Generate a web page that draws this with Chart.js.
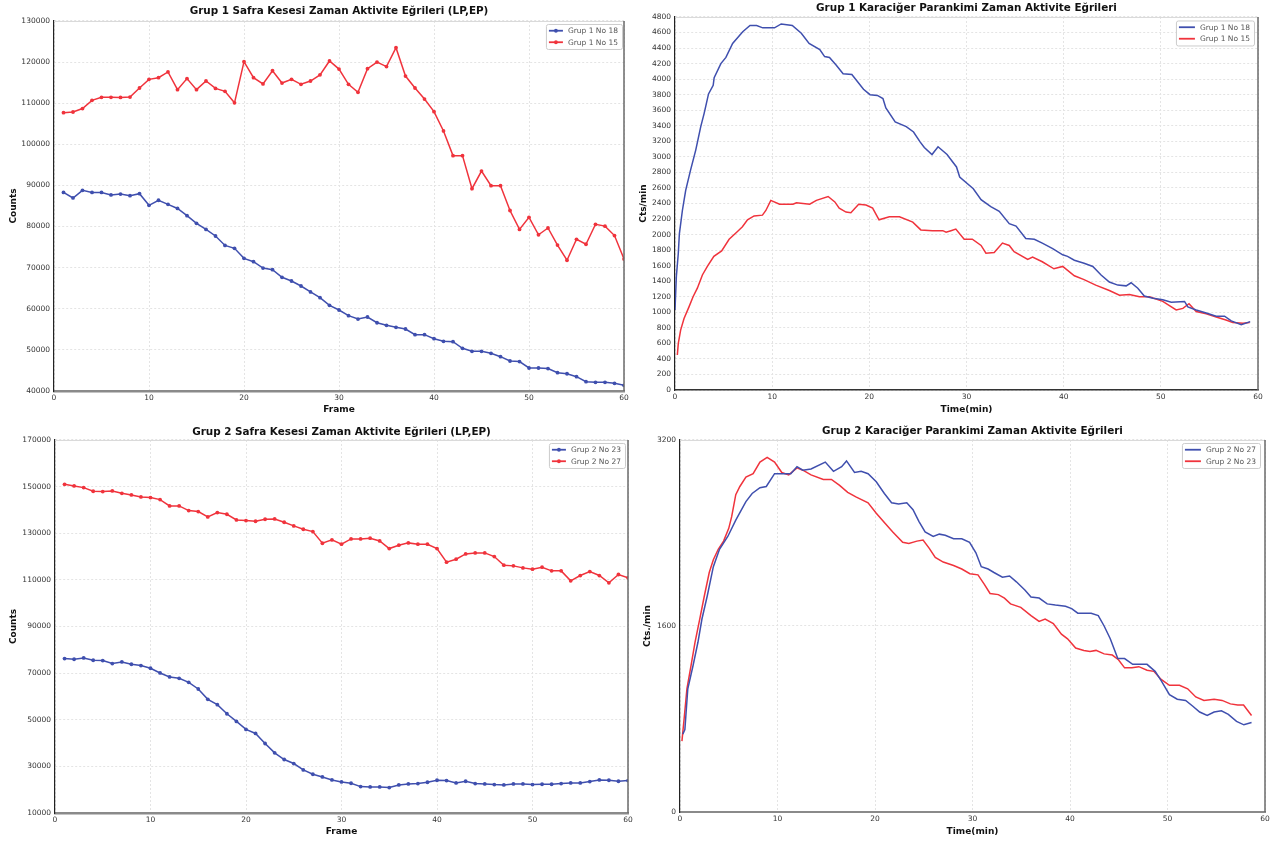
<!DOCTYPE html>
<html><head><meta charset="utf-8">
<script src="https://cdn.jsdelivr.net/npm/chart.js@4.4.1/dist/chart.umd.min.js"></script>
<style>
html,body{margin:0;padding:0;background:#fff;width:1273px;height:841px;overflow:hidden;}
canvas{position:absolute;}
</style></head><body>
<canvas id="c1" width="636" height="420" style="left:0;top:0"></canvas>
<canvas id="c2" width="637" height="420" style="left:636px;top:0"></canvas>
<canvas id="c3" width="636" height="421" style="left:0;top:420px"></canvas>
<canvas id="c4" width="637" height="421" style="left:636px;top:420px"></canvas>
<script>
// ---------- DATA ----------
const frames = [1,2,3,4,5,6,7,8,9,10,11,12,13,14,15,16,17,18,19,20,21,22,23,24,25,26,27,28,29,30,
  31,32,33,34,35,36,37,38,39,40,41,42,43,44,45,46,47,48,49,50,51,52,53,54,55,56,57,58,59,60];

// Grup 1 Safra Kesesi (Counts per frame)
const g1GallNo18 = [88300,86950,88800,88300,88300,87700,87900,87500,88000,85170,86400,85400,84400,82650,80780,
  79300,77700,75400,74700,72260,71450,69900,69500,67650,66750,65540,64100,62700,60840,59700,58320,57500,58000,
  56600,55970,55490,55080,53700,53700,52720,52080,52000,50380,49650,49650,49170,48350,47300,47150,45600,45600,
  45450,44460,44200,43480,42260,42100,42100,41860,41370];
const g1GallNo15 = [107700,107860,108700,110700,111440,111440,111400,111500,113700,115800,116200,117600,113300,
  116000,113300,115400,113600,112900,110100,120100,116200,114700,117900,114900,115800,114600,115400,116900,120270,
  118300,114600,112650,118400,120000,118900,123500,116600,113700,111000,107950,103250,97250,97250,89200,93500,
  89950,89950,83900,79300,82250,78000,79650,75500,71800,76900,75700,80550,80100,77800,72100];

// Grup 2 Safra Kesesi (Counts per frame)
const g2GallNo23 = [76240,75950,76520,75520,75380,74090,74800,73800,73230,72080,70070,68350,67780,66060,63190,
  58750,56450,52580,49280,45840,44120,39820,35800,32940,31220,28490,26630,25480,24190,23330,22760,21330,21180,
  21180,20900,22040,22470,22620,23190,24050,23910,22910,23620,22620,22470,22190,22040,22470,22470,22190,22330,
  22330,22620,22910,22910,23480,24190,24050,23620,23910];
const g2GallNo27 = [151000,150290,149570,148000,147860,148140,147140,146430,145570,145290,144430,141710,141710,
  139710,139290,137000,138860,138140,135710,135430,135140,136000,136140,134710,133140,131710,130710,125710,127140,
  125290,127570,127570,127860,126710,123430,124860,125860,125290,125290,123430,117570,118860,121140,121570,121570,
  120000,116290,116000,115140,114570,115430,113860,113860,109570,111860,113570,111860,108710,112290,110860];

// Grup 1 Karaciğer Parankimi (time in min, Cts/min)
const g1LiverTime18 = [0,0.14,0.34,0.45,0.76,0.93,1.1,1.6,2.14,2.65,3.0,3.45,3.93,4.03,4.72,5.24,5.93,6.97,7.72,8.4,
  9.03,10.24,10.93,12.07,13.0,13.8,14.9,15.4,15.9,16.6,17.3,18.2,19.4,20.07,20.83,21.4,21.7,22.66,23.8,24.55,25.24,
  25.66,26.45,27.07,28.0,28.97,29.3,30.7,31.5,32.5,33.37,34.4,35.1,36.1,36.98,37.8,38.87,39.9,40.4,41.1,42.1,43.0,
  43.85,44.7,45.57,46.43,46.94,47.63,48.3,49.2,50.2,51.07,52.44,52.78,53.64,54.67,55.7,56.56,57.25,58.28,59.2];
const g1LiverNo18 = [1030,1460,1760,2010,2310,2440,2570,2830,3090,3390,3560,3810,3920,4020,4200,4280,4460,4610,4690,
  4690,4660,4660,4710,4690,4590,4460,4380,4290,4280,4180,4070,4060,3870,3800,3790,3750,3630,3450,3390,3320,3190,
  3120,3030,3130,3030,2870,2740,2590,2450,2360,2300,2140,2110,1950,1940,1890,1820,1740,1720,1670,1630,1590,1480,
  1390,1350,1340,1380,1310,1210,1180,1160,1130,1140,1070,1030,990,950,950,890,840,880];
const g1LiverTime15 = [0.24,0.34,0.58,0.93,1.44,1.86,2.3,2.82,3.33,4.0,4.8,5.57,6.43,6.94,7.46,8.14,9.0,9.35,9.86,
  10.76,12.14,12.5,13.86,14.55,15.76,16.45,16.9,17.6,18.1,18.9,19.66,20.34,21.0,22.06,23.1,24.47,25.3,26.5,27.56,
  27.9,28.4,28.9,29.76,30.6,31.5,32.0,32.85,33.7,34.4,34.9,36.3,36.8,37.8,39.0,39.9,41.1,42.1,43.3,44.7,45.74,46.77,
  47.8,48.83,50.2,51.58,52.27,52.9,53.64,54.67,55.7,56.7,57.4,58.45,59.14];
const g1LiverNo15 = [450,600,770,920,1070,1200,1310,1480,1590,1720,1790,1940,2040,2100,2190,2240,2250,2310,2440,
  2390,2390,2410,2390,2440,2490,2420,2340,2290,2280,2390,2380,2340,2190,2230,2230,2160,2060,2050,2050,2030,2050,
  2070,1940,1940,1860,1760,1770,1890,1860,1780,1680,1710,1650,1560,1590,1470,1420,1350,1280,1220,1230,1200,1200,
  1140,1030,1050,1110,1010,980,940,900,870,860,870];

// Grup 2 Karaciğer Parankimi (time in min, Cts/min)
const g2LiverTime27 = [0.29,0.5,0.8,1.34,1.84,2.25,2.8,3.42,4.05,4.9,5.72,6.76,7.4,8.2,8.85,9.7,10.94,11.36,12.0,
  12.6,13.44,14.9,15.74,16.58,17.08,17.9,18.58,19.29,20.13,20.96,21.7,22.42,23.26,23.9,24.5,25.14,25.97,26.6,27.2,
  28.06,28.9,29.7,30.35,30.9,31.6,32.2,33.07,33.8,34.5,35.37,36.0,36.83,37.66,38.5,39.54,40.17,40.8,41.63,42.17,
  42.9,43.5,44.13,44.9,45.6,46.43,47.9,48.73,49.35,50.2,51.0,51.86,52.6,53.3,54.07,54.78,55.53,56.24,57.08,57.83,58.62];
const g2LiverNo27 = [670,710,1060,1260,1460,1660,1860,2110,2260,2370,2510,2670,2740,2790,2800,2910,2910,2910,2970,
  2940,2950,3010,2930,2970,3020,2920,2930,2910,2840,2740,2660,2650,2660,2600,2500,2410,2370,2390,2380,2350,2350,
  2320,2230,2110,2090,2060,2020,2030,1980,1910,1850,1840,1790,1780,1770,1750,1710,1710,1710,1690,1600,1490,1320,
  1320,1270,1270,1210,1130,1010,970,960,910,860,830,860,870,840,780,750,770];
const g2LiverTime23 = [0.2,0.42,0.71,1.13,1.54,2.05,2.5,3.0,3.42,3.92,4.47,5.0,5.3,5.72,6.14,6.76,7.5,8.2,8.94,9.7,
  10.44,11.15,12.0,12.6,13.44,14.7,15.53,16.37,17.2,18.04,19.29,20.13,20.96,21.8,22.84,23.47,24.3,24.93,25.55,26.18,
  27.0,28.06,28.9,29.73,30.56,31.2,31.8,32.65,33.28,33.9,34.95,36.0,36.83,37.45,38.29,39.12,39.75,40.58,41.42,42.05,
  42.67,43.5,44.34,44.97,45.6,46.35,47.06,47.9,48.6,49.35,50.2,51.23,52.07,52.9,53.74,54.78,55.6,56.45,57.2,57.8,58.62];
const g2LiverNo23 = [610,800,1060,1260,1460,1670,1860,2060,2170,2260,2330,2440,2540,2730,2800,2880,2910,3010,3050,
  3010,2920,2900,2960,2940,2900,2860,2860,2810,2750,2710,2660,2570,2490,2410,2320,2310,2330,2340,2270,2190,2150,
  2120,2090,2050,2040,1960,1880,1870,1840,1790,1760,1690,1640,1660,1620,1530,1490,1410,1390,1380,1390,1360,1350,
  1310,1240,1240,1250,1220,1210,1140,1090,1090,1060,990,960,970,960,930,920,920,830];

// ---------- STYLE ----------
const BLUE = '#3f4fae';
const RED = '#f0333c';
Chart.defaults.font.family = '"DejaVu Sans", sans-serif';
Chart.defaults.color = '#333';

function pts(xs, ys) { return xs.map((x, i) => ({x: x, y: ys[i]})); }

const framePlugin = {
  id: 'plotFrame',
  afterDatasetsDraw(chart) {
    const {ctx, chartArea: a} = chart;
    ctx.save();
    ctx.lineWidth = 1; ctx.strokeStyle = '#d9d9d9';
    ctx.beginPath(); ctx.moveTo(a.left, a.top + 0.5); ctx.lineTo(a.right, a.top + 0.5); ctx.stroke();
    ctx.lineWidth = 1.5; ctx.strokeStyle = '#6a6a6a';
    ctx.beginPath(); ctx.moveTo(a.right, a.top); ctx.lineTo(a.right, a.bottom); ctx.stroke();
    ctx.restore();
  }
};

const boxLegend = {
  id: 'boxLegend',
  afterDraw(chart, args, o) {
    if (!o || !o.enabled) return;
    const {ctx, chartArea: a} = chart;
    const ds = chart.data.datasets;
    ctx.save();
    ctx.font = '7.5px "DejaVu Sans", sans-serif';
    const tw = Math.max(...ds.map(d => ctx.measureText(d.label).width));
    const padL = 3, lineLen = o.lineLen, gap = 5, padR = 4, rowH = 11.5;
    const w = padL + lineLen + gap + tw + padR;
    const h = 2 + ds.length * rowH;
    const x = a.right - o.marginR - w, y = a.top + o.marginT;
    ctx.fillStyle = 'rgba(255,255,255,0.92)';
    ctx.strokeStyle = '#cccccc'; ctx.lineWidth = 1;
    ctx.beginPath();
    if (ctx.roundRect) ctx.roundRect(x + 0.5, y + 0.5, w, h, 2); else ctx.rect(x + 0.5, y + 0.5, w, h);
    ctx.fill(); ctx.stroke();
    ds.forEach((d, i) => {
      const cy = y + 1 + rowH * (i + 0.5);
      ctx.strokeStyle = d.borderColor; ctx.lineWidth = 1.8;
      ctx.beginPath(); ctx.moveTo(x + padL, cy); ctx.lineTo(x + padL + lineLen, cy); ctx.stroke();
      if (o.marker) {
        ctx.fillStyle = d.borderColor;
        ctx.beginPath(); ctx.arc(x + padL + lineLen / 2, cy, 1.9, 0, Math.PI * 2); ctx.fill();
      }
      ctx.fillStyle = '#555';
      ctx.textBaseline = 'middle';
      ctx.fillText(d.label, x + padL + lineLen + gap, cy + 0.5);
    });
    ctx.restore();
  }
};

function makeChart(id, c) {
  const datasets = c.series.map(s => ({
    label: s.label, data: s.data, borderColor: s.color, backgroundColor: s.color,
    borderWidth: 1.5, pointRadius: c.markers ? 1.9 : 0, pointBorderWidth: 0,
    pointHoverRadius: 0, tension: 0, fill: false
  }));
  return new Chart(document.getElementById(id), {
    type: 'line',
    data: {datasets: datasets},
    plugins: [framePlugin, boxLegend],
    options: {
      responsive: false, animation: false, devicePixelRatio: 1,
      layout: {padding: {left: 0, right: c.padRight, top: 0, bottom: 0}},
      plugins: {
        legend: {display: false},
        tooltip: {enabled: false},
        title: {display: true, text: c.title, fullSize: false, color: '#111',
          font: {size: 10.4, weight: 'bold'}, padding: {top: c.titleTop, bottom: c.titleBottom}},
        boxLegend: {enabled: true, marker: c.markers, lineLen: c.markers ? 14 : 16, marginR: c.legR, marginT: c.legT}
      },
      scales: {
        x: {
          type: 'linear', min: 0, max: 60,
          ticks: {stepSize: 10, maxRotation: 0, autoSkip: false, font: {size: 7.5}, color: '#333', padding: 3,
            callback: v => String(v)},
          grid: {color: '#e4e4e4', drawTicks: false, lineWidth: 1},
          border: {display: true, color: c.xBorderColor, width: c.xBorderWidth, dash: [2, 2]},
          title: {display: true, text: c.xTitle, color: '#111', font: {size: 9, weight: 'bold'},
            padding: {top: 0, bottom: c.xTitlePad}},
          afterFit: s => { s.height = c.xHeight; }
        },
        y: {
          type: 'linear', min: c.yMin, max: c.yMax,
          ticks: {stepSize: c.yStep, autoSkip: false, font: {size: 7.5}, color: '#333', padding: 4,
            callback: v => String(v)},
          grid: {color: '#e4e4e4', drawTicks: false, lineWidth: 1},
          border: {display: true, color: '#222', width: 1.2, dash: [2, 2]},
          title: {display: true, text: c.yTitle, color: '#111', font: {size: 9, weight: 'bold'},
            padding: {top: c.yTitlePad, bottom: 0}},
          afterFit: s => { s.width = c.yWidth; }
        }
      }
    }
  });
}

makeChart('c1', {
  title: 'Grup 1 Safra Kesesi Zaman Aktivite Eğrileri (LP,EP)',
  series: [
    {label: 'Grup 1 No 18', color: BLUE, data: pts(frames, g1GallNo18)},
    {label: 'Grup 1 No 15', color: RED, data: pts(frames, g1GallNo15)}
  ],
  markers: true, padRight: 12, titleTop: 5.4, titleBottom: 3.1,
  xTitle: 'Frame', yTitle: 'Counts', xHeight: 29, xTitlePad: 4.6, yWidth: 54, yTitlePad: 8.4,
  yMin: 40000, yMax: 130000, yStep: 10000, xBorderColor: '#8a8a8a', xBorderWidth: 2.5, legR: 2, legT: 3
});

makeChart('c2', {
  title: 'Grup 1 Karaciğer Parankimi Zaman Aktivite Eğrileri',
  series: [
    {label: 'Grup 1 No 18', color: BLUE, data: pts(g1LiverTime18, g1LiverNo18)},
    {label: 'Grup 1 No 15', color: RED, data: pts(g1LiverTime15, g1LiverNo15)}
  ],
  markers: false, padRight: 15, titleTop: 1.8, titleBottom: 2.7,
  xTitle: 'Time(min)', yTitle: 'Cts/min', xHeight: 30, xTitlePad: 5, yWidth: 39, yTitlePad: 2.6,
  yMin: 0, yMax: 4800, yStep: 200, xBorderColor: '#333', xBorderWidth: 1.5, legR: 4, legT: 3.5
});

makeChart('c3', {
  title: 'Grup 2 Safra Kesesi Zaman Aktivite Eğrileri (LP,EP)',
  series: [
    {label: 'Grup 2 No 23', color: BLUE, data: pts(frames, g2GallNo23)},
    {label: 'Grup 2 No 27', color: RED, data: pts(frames, g2GallNo27)}
  ],
  markers: true, padRight: 8, titleTop: 5.8, titleBottom: 1.7,
  xTitle: 'Frame', yTitle: 'Counts', xHeight: 28, xTitlePad: 3.6, yWidth: 55, yTitlePad: 8.4,
  yMin: 10000, yMax: 170000, yStep: 20000, xBorderColor: '#8a8a8a', xBorderWidth: 2.5, legR: 3, legT: 3
});

makeChart('c4', {
  title: 'Grup 2 Karaciğer Parankimi Zaman Aktivite Eğrileri',
  series: [
    {label: 'Grup 2 No 27', color: BLUE, data: pts(g2LiverTime27, g2LiverNo27)},
    {label: 'Grup 2 No 23', color: RED, data: pts(g2LiverTime23, g2LiverNo23)}
  ],
  markers: false, padRight: 8, titleTop: 4.8, titleBottom: 2.7,
  xTitle: 'Time(min)', yTitle: 'Cts./min', xHeight: 29, xTitlePad: 3.6, yWidth: 44, yTitlePad: 6.4,
  yMin: 0, yMax: 3200, yStep: 1600, xBorderColor: '#8a8a8a', xBorderWidth: 2, legR: 5, legT: 3
});
</script>
</body></html>
